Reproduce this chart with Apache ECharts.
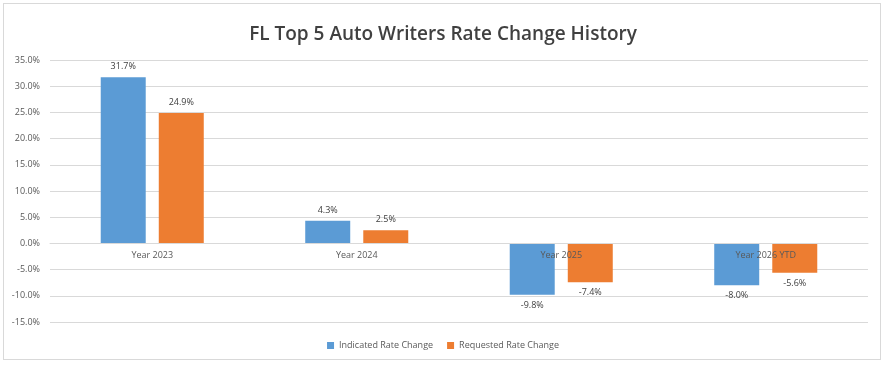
<!DOCTYPE html>
<html><head><meta charset="utf-8">
<script src="https://cdn.jsdelivr.net/npm/echarts@6/dist/echarts.min.js"></script>
<style>
html,body{margin:0;padding:0;background:#fff;}
#wrap{position:absolute;left:3px;top:3px;width:878px;height:357px;border:1px solid #d9d9d9;box-sizing:border-box;}
#c{position:absolute;left:0;top:0;width:886px;height:366px;}
</style></head>
<body>
<div id="wrap"></div>
<div id="c"></div>
<script>
const categories = ['Year 2023', 'Year 2024', 'Year 2025', 'Year 2026 YTD'];
const indicated = [31.7, 4.3, -9.8, -8.0];
const requested = [24.9, 2.5, -7.4, -5.6];
const seriesNames = ['Indicated Rate Change', 'Requested Rate Change'];
const yMin = -15, yMax = 35, yStep = 5;

const font = 'Open Sans, Liberation Sans, sans-serif';
const gridTop = 60, gridBottom = 44, H = 366;
const plotH = H - gridTop - gridBottom;
const zeroOffset = -((0 - yMin) / (yMax - yMin)) * plotH;
const chart = echarts.init(document.getElementById('c'));
const lbl = {show: true, fontSize: 9, color: '#404040', fontFamily: font, distance: 6,
  formatter: p => p.value.toFixed(1) + '%'};
chart.setOption({
  animation: false,
  title: {text: 'FL Top 5 Auto Writers Rate Change History', left: 'center', top: 20,
    textStyle: {fontFamily: font, fontSize: 19, fontWeight: 600, color: '#404040'}},
  legend: {bottom: 11, left: 'center', itemWidth: 7, itemHeight: 7, itemGap: 14, icon: 'rect',
    textStyle: {fontFamily: font, fontSize: 9, color: '#595959'}},
  grid: {left: 50, right: 18, top: gridTop, bottom: gridBottom},
  xAxis: {type: 'category', data: categories, offset: zeroOffset, z: 10,
    axisLine: {onZero: false, lineStyle: {color: '#d9d9d9'}},
    axisTick: {show: false},
    axisLabel: {fontFamily: font, fontSize: 9, color: '#595959', margin: 8}},
  yAxis: {type: 'value', min: yMin, max: yMax, interval: yStep,
    axisLabel: {fontFamily: font, fontSize: 9, color: '#595959', margin: 10,
      formatter: v => v.toFixed(1) + '%'},
    splitLine: {lineStyle: {color: '#d9d9d9'}},
    axisLine: {show: false}, axisTick: {show: false}},
  series: [
    {name: seriesNames[0], type: 'bar', data: indicated, barWidth: '22%', barGap: '29%', z: 2,
      itemStyle: {color: '#5b9bd5'}, label: Object.assign({position: 'outside'}, lbl)},
    {name: seriesNames[1], type: 'bar', data: requested, barWidth: '22%', z: 2,
      itemStyle: {color: '#ed7d31'}, label: Object.assign({position: 'outside'}, lbl)}
  ]
});
</script>
</body></html>
